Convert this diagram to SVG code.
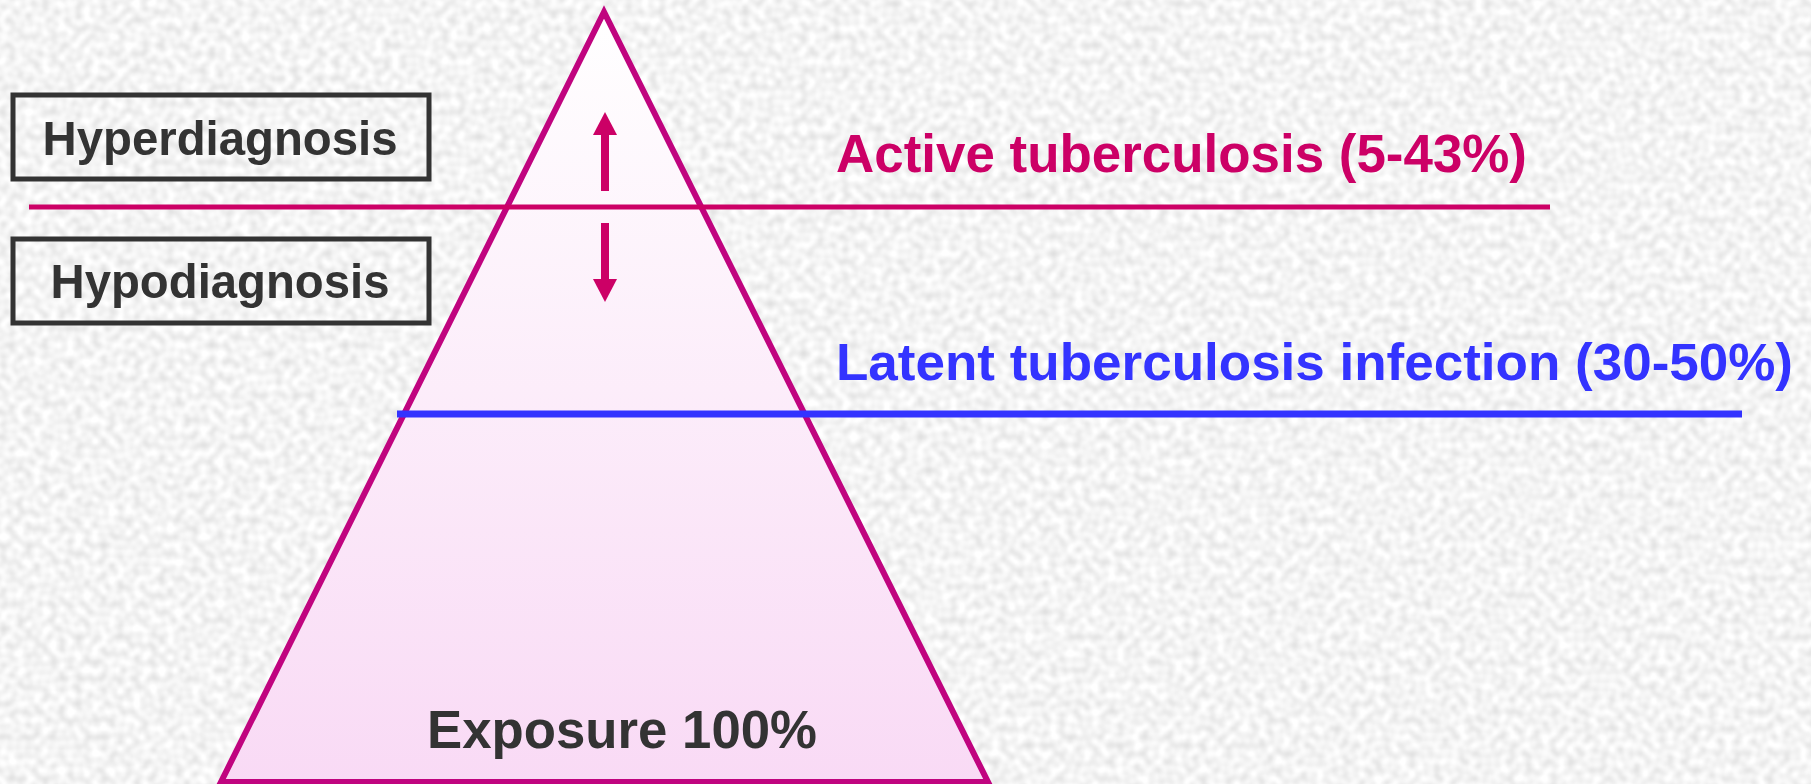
<svg xmlns="http://www.w3.org/2000/svg" width="1811" height="784" viewBox="0 0 1811 784">
<style>
.box{fill:none;stroke:#333333;stroke-width:5}
.lbl{font-family:"Liberation Sans",Arial,sans-serif;font-weight:bold}
.dark{fill:#333333}
</style>
<defs>
<filter id="noise" x="0" y="0" width="1811" height="784" filterUnits="userSpaceOnUse">
<feTurbulence type="fractalNoise" baseFrequency="0.12" numOctaves="1" seed="7"/>
<feColorMatrix type="matrix" values="0.45 0 0 0 0.68  0.45 0 0 0 0.68  0.45 0 0 0 0.68  0 0 0 0 1"/>
</filter>
<linearGradient id="tri" x1="0" y1="0" x2="0" y2="1">
<stop offset="0" stop-color="#ffffff"/>
<stop offset="1" stop-color="#f9daf5"/>
</linearGradient>
</defs>
<rect x="0" y="0" width="1811" height="784" fill="#e9e9e9" filter="url(#noise)"/>
<g id="pyramid">
<polygon points="604,12 221,782 988,782" fill="url(#tri)" stroke="#c0047f" stroke-width="6" stroke-linejoin="miter"/>
<text class="lbl dark" x="622" y="748" font-size="53" text-anchor="middle" textLength="390" lengthAdjust="spacingAndGlyphs">Exposure 100%</text>
</g>
<g id="hyperdiagnosis">
<rect class="box" x="13" y="95" width="416" height="84"/>
<text class="lbl dark" x="220" y="155" font-size="49" text-anchor="middle" textLength="355" lengthAdjust="spacingAndGlyphs">Hyperdiagnosis</text>
</g>
<g id="hypodiagnosis">
<rect class="box" x="13" y="239" width="416" height="84"/>
<text class="lbl dark" x="220" y="298" font-size="49" text-anchor="middle" textLength="339" lengthAdjust="spacingAndGlyphs">Hypodiagnosis</text>
</g>
<g id="active">
<text class="lbl" x="836" y="172" font-size="53" fill="#cc0066" textLength="691" lengthAdjust="spacingAndGlyphs">Active tuberculosis (5-43%)</text>
</g>
<g id="latent">
<text class="lbl" x="836" y="380" font-size="52" fill="#3333ff" textLength="957" lengthAdjust="spacingAndGlyphs">Latent tuberculosis infection (30-50%)</text>
</g>
<g id="connectors">
<line x1="29" y1="207" x2="1550" y2="207" stroke="#cc0066" stroke-width="5"/>
<line x1="397" y1="414" x2="1742" y2="414" stroke="#3333ff" stroke-width="7"/>
<line x1="605" y1="191" x2="605" y2="133" stroke="#cc0066" stroke-width="8"/>
<polygon points="605,112 593,135 617,135" fill="#cc0066"/>
<line x1="605" y1="223" x2="605" y2="281" stroke="#cc0066" stroke-width="8"/>
<polygon points="605,302 593,279 617,279" fill="#cc0066"/>
</g>
</svg>
